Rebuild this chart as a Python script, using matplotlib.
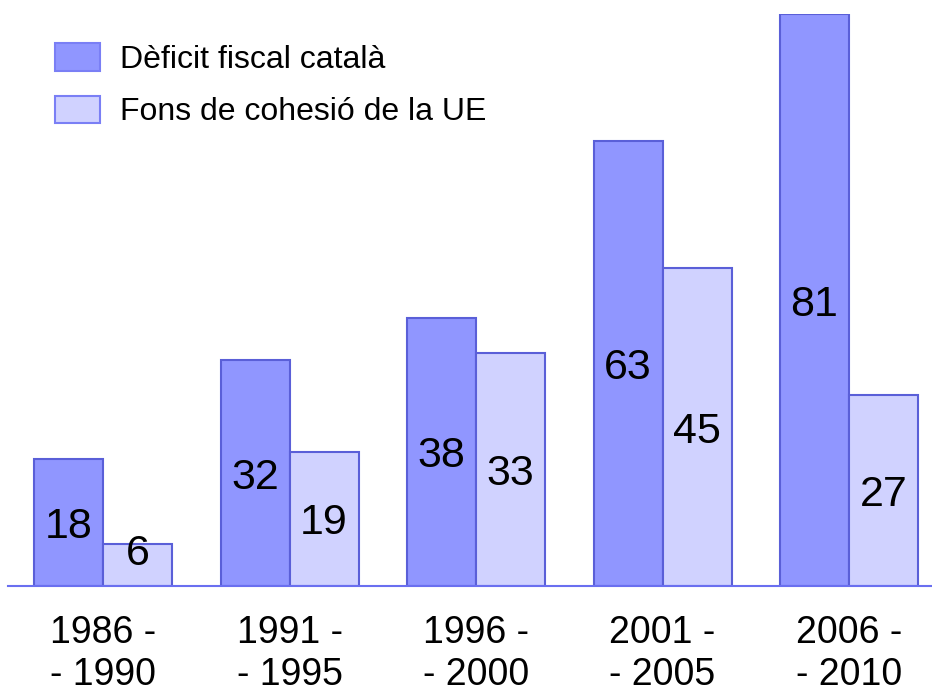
import numpy as np
import matplotlib
matplotlib.use("Agg")
import matplotlib.pyplot as plt
from matplotlib.patches import Patch

plt.rcParams['font.family'] = ['Liberation Sans', 'DejaVu Sans']

periods = ["1986 -\n- 1990", "1991 -\n- 1995", "1996 -\n- 2000", "2001 -\n- 2005", "2006 -\n- 2010"]
deficit = [18, 32, 38, 63, 81]
cohesio = [6, 19, 33, 45, 27]
labels = ["Dèficit fiscal català", "Fons de cohesió de la UE"]

dark_fill, dark_edge = '#9096ff', '#5a5fd8'
light_fill, light_edge = '#d0d2ff', '#5a5fd8'

fig = plt.figure(figsize=(9.32, 6.93), dpi=100)
ax = fig.add_axes([8 / 932, 107 / 693, 1 - 8 / 932, 572 / 693])

x = np.arange(len(periods))
w = 0.37
ax.bar(x - w / 2, deficit, w, color=dark_fill, edgecolor=dark_edge, linewidth=1.5)
ax.bar(x + w / 2, cohesio, w, color=light_fill, edgecolor=light_edge, linewidth=1.5)

for xi, v in zip(x - w / 2, deficit):
    ax.text(xi, max(v / 2, 5.2), str(v), ha='center', va='center_baseline', fontsize=31)
for xi, v in zip(x + w / 2, cohesio):
    ax.text(xi, max(v / 2, 5.2), str(v), ha='center', va='center_baseline', fontsize=31)

ax.set_xlim(-0.51, 4.445)
ax.set_ylim(0, 81)
ax.set_xticks(x)
ax.set_xticklabels(periods, fontsize=27, linespacing=1.22)
ax.tick_params(axis='x', length=0, pad=21)
ax.set_yticks([])
for s in ['top', 'right', 'left']:
    ax.spines[s].set_visible(False)
ax.spines['bottom'].set_color('#6a6ff0')
ax.spines['bottom'].set_linewidth(1.5)

handles = [Patch(facecolor=dark_fill, edgecolor='#7a7ff5', linewidth=1.5),
           Patch(facecolor=light_fill, edgecolor='#7a7ff5', linewidth=1.5)]
ax.legend(handles, labels, loc='upper left', bbox_to_anchor=(0.051, 0.949), frameon=False,
          fontsize=23, handlelength=1.4, handleheight=0.94, handletextpad=0.62,
          labelspacing=0.65, borderaxespad=0, borderpad=0)

fig.savefig("out.png", dpi=100)
